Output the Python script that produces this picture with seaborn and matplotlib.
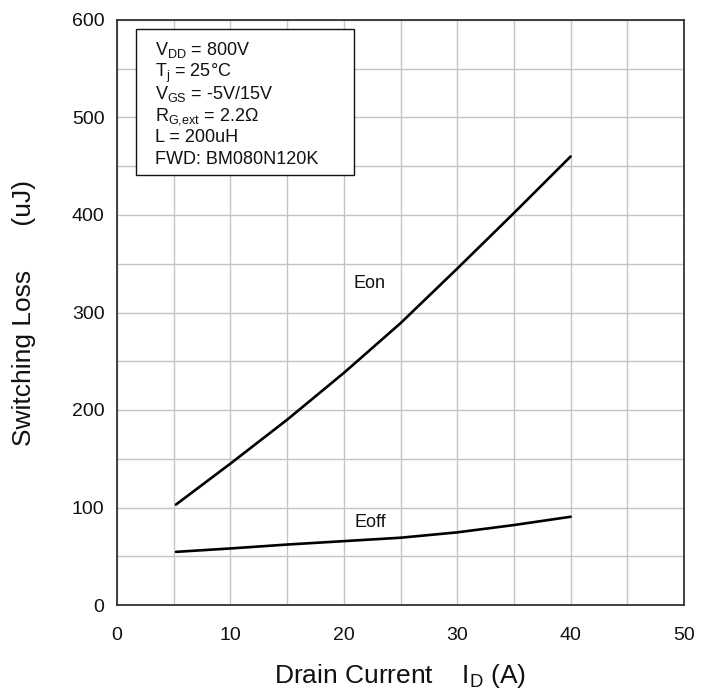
import matplotlib
matplotlib.use("Agg")
import matplotlib.pyplot as plt
import matplotlib.patches as mpatches
import numpy as np
import pandas as pd
import seaborn as sns

# Switching energy vs. drain current
drain_current = [5.2, 10, 15, 20, 25, 30, 35, 40]
eon = [103, 145, 190, 238, 289, 345, 402, 460]
eoff = [54.5, 58, 62, 65.5, 69, 74.5, 82, 90.5]

x_ticks = [0, 10, 20, 30, 40, 50]
y_ticks = [0, 100, 200, 300, 400, 500, 600]

conditions = [
    r"V$_{\mathrm{DD}}$ = 800V",
    r"T$_{\mathrm{j}}$ = 25°C",
    r"V$_{\mathrm{GS}}$ = -5V/15V",
    r"R$_{\mathrm{G{,}ext}}$ = 2.2Ω",
    "L = 200uH",
    "FWD: BM080N120K",
]

sns.set_style("white")
plt.rcParams["font.family"] = ["Liberation Sans", "DejaVu Sans"]
plt.rcParams["mathtext.fontset"] = "custom"
plt.rcParams["mathtext.rm"] = "Liberation Sans"
plt.rcParams["mathtext.it"] = "Liberation Sans:italic"
plt.rcParams["mathtext.bf"] = "Liberation Sans:bold"
plt.rcParams["mathtext.default"] = "regular"

df = pd.DataFrame({
    "Id": drain_current * 2,
    "E": eon + eoff,
    "curve": ["Eon"] * len(eon) + ["Eoff"] * len(eoff),
})

fig = plt.figure(figsize=(7.08, 6.93), dpi=100)
ax = fig.add_axes([117 / 708, 88 / 693, 567 / 708, 585 / 693])

sns.lineplot(data=df, x="Id", y="E", units="curve", estimator=None,
             color="black", linewidth=1.9, ax=ax, legend=False, zorder=3)

ax.set_xlim(0, 50)
ax.set_ylim(0, 600)
ax.set_xticks(x_ticks)
ax.set_yticks(y_ticks)
ax.set_xticks(np.arange(0, 51, 5), minor=True)
ax.set_yticks(np.arange(0, 601, 50), minor=True)
ax.grid(True, which="both", color="#c4c4c4", linewidth=1.0, zorder=0)
ax.set_axisbelow(True)

ax.tick_params(axis="both", which="both", length=0, labelsize=14, colors="#111111")
ax.tick_params(axis="x", pad=16)
ax.tick_params(axis="y", pad=9)

for s in ax.spines.values():
    s.set_color("#333333")
    s.set_linewidth(1.3)

ax.set_xlabel(r"Drain Current    I$_{\mathrm{D}}$ (A)", fontsize=19, color="#111111")
ax.set_ylabel("Switching Loss      (uJ)", fontsize=19, color="#111111")
ax.xaxis.set_label_coords(0.5, -0.098)
ax.yaxis.set_label_coords(-0.142, 0.5)

# curve labels
ax.text(22.3, 330, "Eon", fontsize=13, ha="center", va="center", color="#111111")
ax.text(22.3, 85, "Eoff", fontsize=13, ha="center", va="center", color="#111111")

# test condition box
box = mpatches.Rectangle((1.68, 441.3), 20.9 - 1.68, 590.5 - 441.3,
                         facecolor="white", edgecolor="#111111",
                         linewidth=1.0, zorder=4)
ax.add_patch(box)
for i, line in enumerate(conditions):
    ax.text(3.35, 564 - i * 22.4, line, fontsize=13, ha="left",
            va="baseline", color="#111111", zorder=5)

fig.savefig("out.png", dpi=100)
